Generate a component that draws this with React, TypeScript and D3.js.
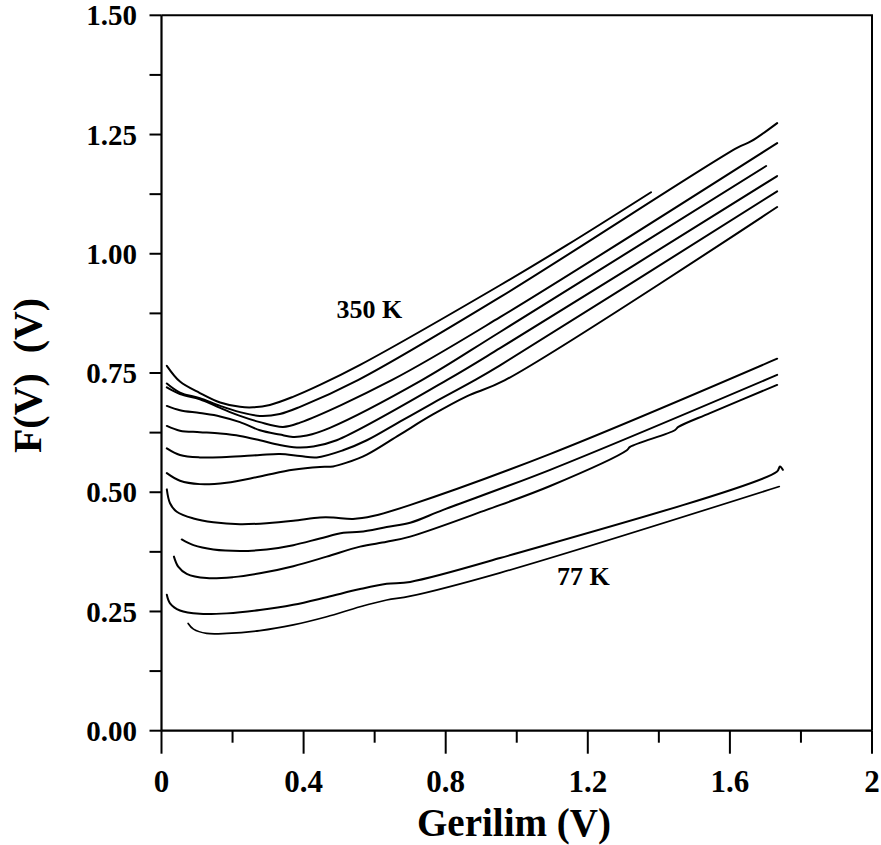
import React from 'react';
import * as d3 from 'd3';

type Pt = [number, number];

const xMajorTicks = [0, 0.4, 0.8, 1.2, 1.6, 2];
const xTickLabels = ['0', '0.4', '0.8', '1.2', '1.6', '2'];
const xMinorTicks = [0.2, 0.6, 1.0, 1.4, 1.8];
const yMajorTicks = [0, 0.25, 0.5, 0.75, 1.0, 1.25, 1.5];
const yTickLabels = ['0.00', '0.25', '0.50', '0.75', '1.00', '1.25', '1.50'];
const yMinorTicks = [0.125, 0.375, 0.625, 0.875, 1.125, 1.375];

// Upper group (350 K at top)
const curve350K: Pt[] = [[0.015,0.765],[0.052,0.732],[0.108,0.708],[0.165,0.688],[0.221,0.679],[0.258,0.678],[0.305,0.683],[0.370,0.700],[0.446,0.725],[0.559,0.767],[0.953,0.934],[1.141,1.018],[1.378,1.129]];
const curveB: Pt[] = [[0.015,0.728],[0.052,0.709],[0.108,0.697],[0.165,0.681],[0.221,0.668],[0.277,0.660],[0.333,0.664],[0.390,0.679],[0.553,0.735],[0.953,0.909],[1.62,1.222],[1.66,1.236],[1.733,1.274]];
const curveC: Pt[] = [[0.015,0.720],[0.052,0.706],[0.108,0.695],[0.165,0.677],[0.221,0.660],[0.277,0.647],[0.342,0.637],[0.390,0.646],[0.648,0.735],[0.953,0.867],[1.733,1.232]];
const curveD: Pt[] = [[0.015,0.681],[0.052,0.672],[0.108,0.666],[0.165,0.659],[0.221,0.647],[0.277,0.630],[0.333,0.621],[0.370,0.616],[0.409,0.619],[0.474,0.635],[0.733,0.735],[0.953,0.836],[1.702,1.184]];
const curveE: Pt[] = [[0.015,0.639],[0.052,0.629],[0.108,0.626],[0.165,0.623],[0.221,0.618],[0.277,0.609],[0.333,0.599],[0.381,0.594],[0.427,0.596],[0.493,0.609],[0.803,0.735],[0.953,0.802],[1.733,1.163]];
const curveF: Pt[] = [[0.015,0.592],[0.052,0.578],[0.108,0.573],[0.183,0.574],[0.277,0.578],[0.333,0.580],[0.390,0.576],[0.437,0.573],[0.511,0.588],[0.578,0.609],[0.671,0.648],[0.764,0.687],[0.882,0.735],[0.953,0.766],[1.733,1.131]];
const curveG: Pt[] = [[0.015,0.540],[0.052,0.524],[0.108,0.517],[0.183,0.520],[0.277,0.533],[0.370,0.547],[0.446,0.553],[0.483,0.554],[0.521,0.562],[0.578,0.579],[0.671,0.621],[0.764,0.663],[0.859,0.701],[0.967,0.735],[1.733,1.098]];
// Middle group
const curveH: Pt[] = [[0.015,0.506],[0.024,0.477],[0.043,0.459],[0.090,0.445],[0.146,0.437],[0.221,0.433],[0.296,0.435],[0.371,0.440],[0.446,0.447],[0.483,0.447],[0.539,0.444],[0.595,0.450],[0.699,0.473],[1.093,0.580],[1.733,0.780]];
const curveI: Pt[] = [[0.057,0.401],[0.090,0.389],[0.146,0.380],[0.221,0.377],[0.296,0.380],[0.371,0.389],[0.446,0.403],[0.512,0.415],[0.559,0.417],[0.634,0.427],[0.700,0.436],[0.793,0.463],[1.094,0.547],[1.733,0.746]];
const curveJ: Pt[] = [[0.035,0.365],[0.047,0.344],[0.071,0.329],[0.127,0.320],[0.202,0.322],[0.277,0.330],[0.371,0.345],[0.465,0.365],[0.559,0.386],[0.634,0.396],[0.700,0.407],[0.915,0.463],[1.094,0.513],[1.310,0.588],[1.319,0.595],[1.445,0.630],[1.455,0.637],[1.544,0.666],[1.733,0.725]];
// Bottom group (77 K at bottom)
const curveK: Pt[] = [[0.015,0.285],[0.024,0.267],[0.052,0.252],[0.108,0.245],[0.184,0.246],[0.277,0.253],[0.371,0.264],[0.465,0.280],[0.559,0.297],[0.634,0.308],[0.700,0.312],[0.953,0.362],[1.732,0.543],[1.741,0.554],[1.749,0.547]];
const curve77K: Pt[] = [[0.075,0.225],[0.090,0.213],[0.127,0.204],[0.184,0.204],[0.277,0.210],[0.371,0.222],[0.465,0.239],[0.559,0.260],[0.634,0.274],[0.700,0.282],[0.953,0.331],[1.739,0.512]];

const series: { name: string; pts: Pt[]; w: number }[] = [
  { name: '350 K', pts: curve350K, w: 2 },
  { name: 'B', pts: curveB, w: 2 },
  { name: 'C', pts: curveC, w: 2 },
  { name: 'D', pts: curveD, w: 2 },
  { name: 'E', pts: curveE, w: 2 },
  { name: 'F', pts: curveF, w: 2 },
  { name: 'G', pts: curveG, w: 2 },
  { name: 'H', pts: curveH, w: 2 },
  { name: 'I', pts: curveI, w: 2 },
  { name: 'J', pts: curveJ, w: 2 },
  { name: 'K', pts: curveK, w: 2 },
  { name: '77 K', pts: curve77K, w: 1.7 },
];

const FONT = '"Liberation Serif", "Times New Roman", Times, serif';

export default function App() {
  const W = 881, H = 845;
  const left = 161.5, right = 872, top = 15.3, bottom = 730.7;
  const x = d3.scaleLinear().domain([0, 2]).range([left, right]);
  const y = d3.scaleLinear().domain([0, 1.5]).range([bottom, top]);
  const line = d3.line<Pt>().x(d => x(d[0])).y(d => y(d[1])).curve(d3.curveCatmullRom.alpha(0.5));
  const axisColor = '#000';
  return (
    <svg width={W} height={H} style={{ position: 'absolute', left: 0, top: 0, background: '#fff' }} fontFamily={FONT}>
      <rect x={0} y={0} width={W} height={H} fill="#fff" />
      {/* curves */}
      {series.map(s => (
        <path key={s.name} d={line(s.pts) || ''} fill="none" stroke="#000" strokeWidth={s.w} strokeLinejoin="round" strokeLinecap="round" />
      ))}
      {/* frame */}
      <path d={`M${left},${top}H${right}V${bottom}`} fill="none" stroke={axisColor} strokeWidth={2} />
      <line x1={left} x2={left} y1={top} y2={bottom} stroke={axisColor} strokeWidth={2.2} />
      <line x1={left} x2={right} y1={bottom} y2={bottom} stroke={axisColor} strokeWidth={2.2} />
      {/* y ticks */}
      {yMajorTicks.map((t, i) => (
        <g key={'ym' + i}>
          <line x1={left - 12} x2={left} y1={y(t)} y2={y(t)} stroke={axisColor} strokeWidth={2} />
          <text x={137} y={y(t)} dy="0.35em" textAnchor="end" fontSize={29} fontWeight="bold">{yTickLabels[i]}</text>
        </g>
      ))}
      {yMinorTicks.map((t, i) => (
        <line key={'yn' + i} x1={left - 12} x2={left} y1={y(t)} y2={y(t)} stroke={axisColor} strokeWidth={2} />
      ))}
      {/* x ticks */}
      {xMajorTicks.map((t, i) => (
        <g key={'xm' + i}>
          <line x1={x(t)} x2={x(t)} y1={bottom} y2={bottom + 23} stroke={axisColor} strokeWidth={2} />
          <text x={x(t)} y={792} textAnchor="middle" fontSize={31} fontWeight="bold">{xTickLabels[i]}</text>
        </g>
      ))}
      {xMinorTicks.map((t, i) => (
        <line key={'xn' + i} x1={x(t)} x2={x(t)} y1={bottom} y2={bottom + 12} stroke={axisColor} strokeWidth={2} />
      ))}
      {/* axis titles */}
      <text x={514} y={836} textAnchor="middle" fontSize={41} fontWeight="bold" textLength={194} lengthAdjust="spacingAndGlyphs">Gerilim (V)</text>
      <text transform="translate(41,375.5) rotate(-90)" textAnchor="middle" fontSize={39} fontWeight="bold" style={{ whiteSpace: 'pre' }} textLength={155} lengthAdjust="spacingAndGlyphs">F(V)  (V)</text>
      {/* annotations */}
      <text x={336.5} y={318} fontSize={26} fontWeight="bold">350 K</text>
      <text x={557} y={585} fontSize={26} fontWeight="bold">77 K</text>
    </svg>
  );
}
